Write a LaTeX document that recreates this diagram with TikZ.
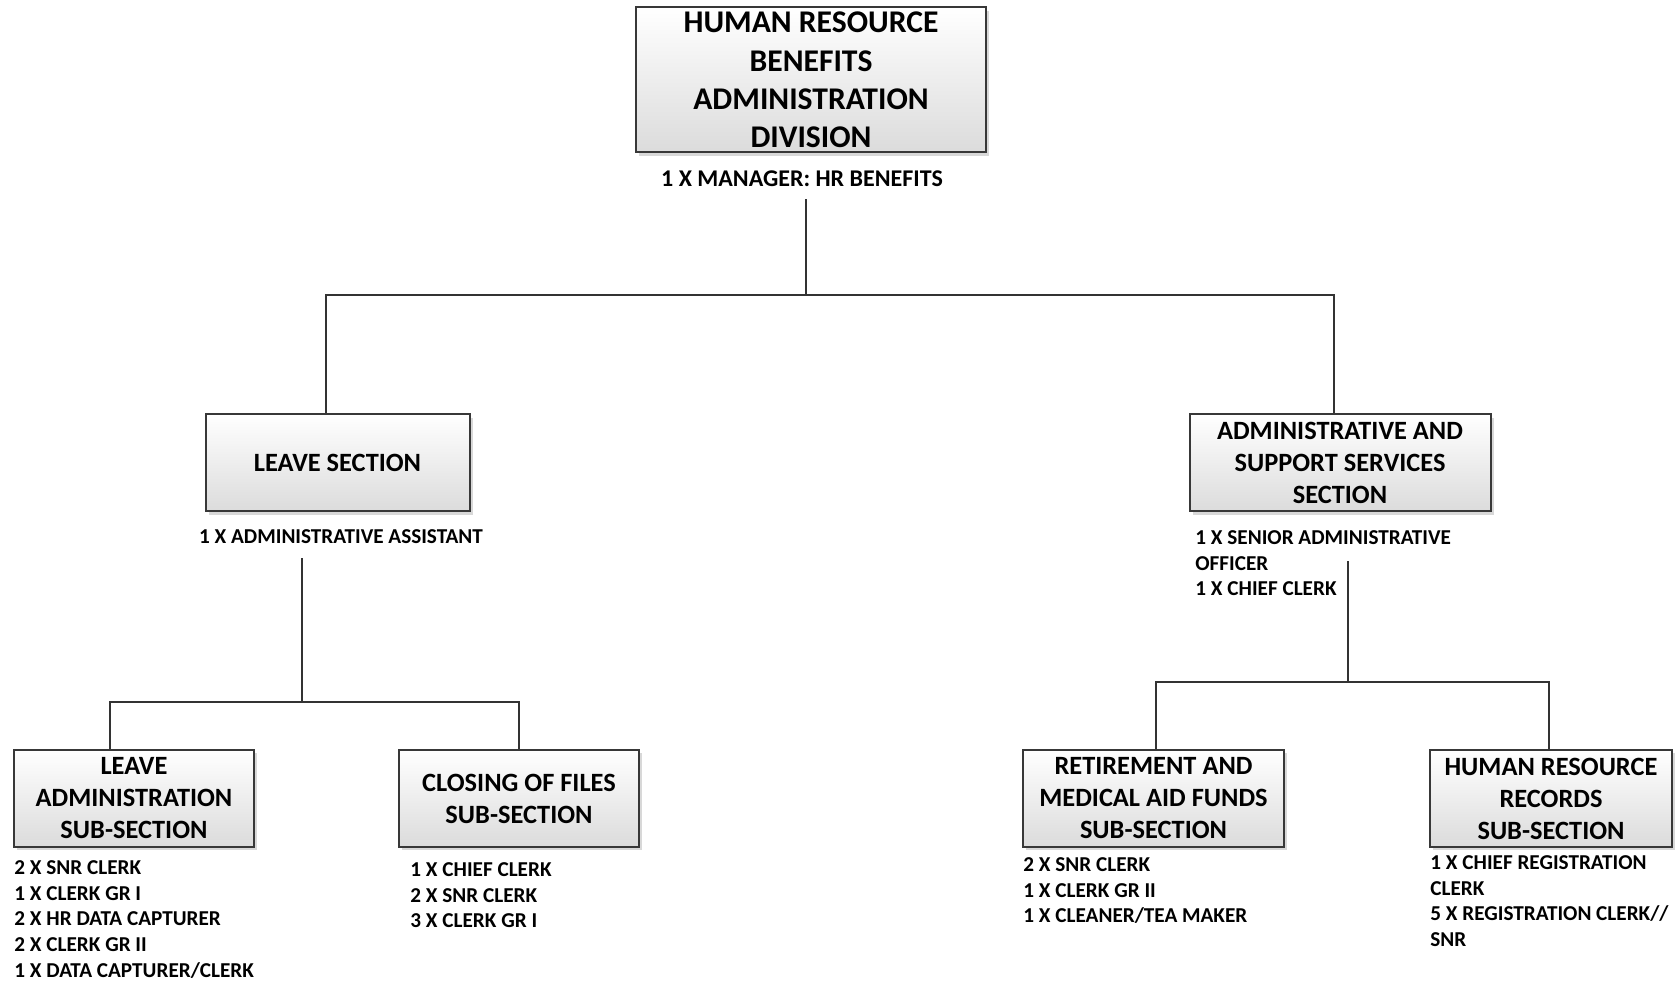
\documentclass[tikz,border=0pt]{standalone}
\usepackage{fontspec}
\setmainfont{Carlito}
\usetikzlibrary{shadows}

\tikzset{
  unitbox/.style={draw=black!78, line width=1pt, top color=white, bottom color=black!14,
    drop shadow={shadow xshift=1.6pt, shadow yshift=-1.6pt, fill=black!30, opacity=0.5},
    align=center, font=\bfseries\fontsize{13.2}{16}\selectfont},
  divbox/.style={unitbox, font=\bfseries\fontsize{15.8}{19.2}\selectfont},
  staff/.style={align=left, anchor=north west, font=\bfseries\fontsize{10.6}{12.9}\selectfont},
  head/.style={font=\bfseries\fontsize{12}{14}\selectfont},
  link/.style={draw=black!80, line width=1pt}
}

\begin{document}
\begin{tikzpicture}[x=0.5pt,y=-0.5pt]
\tikzstyle{every node}+=[inner sep=0pt]
\useasboundingbox (0,0) rectangle (1680,983);

\node [divbox, minimum width=175pt, minimum height=72.5pt] (div) at (811,80) {HUMAN RESOURCE\\BENEFITS\\ADMINISTRATION\\DIVISION};
\node [head] (mgr) at (802,179) {1 X MANAGER: HR BENEFITS};

\node [unitbox, minimum width=132pt, minimum height=48.5pt] (leave) at (337.5,463) {LEAVE SECTION};
\node [head, font=\bfseries\fontsize{10.6}{12.9}\selectfont] (asst) at (341,537) {1 X ADMINISTRATIVE ASSISTANT};

\node [unitbox, minimum width=150.5pt, minimum height=48.5pt] (admin) at (1340,463) {ADMINISTRATIVE AND\\SUPPORT SERVICES\\SECTION};
\node [staff] (sao) at (1195,530) {1 X SENIOR ADMINISTRATIVE\\OFFICER\\1 X CHIEF CLERK};

\node [unitbox, minimum width=120pt, minimum height=48.5pt] (leaveadm) at (134,798.5) {LEAVE\\ADMINISTRATION\\SUB-SECTION};
\node [staff] (lastaff) at (14,860) {2 X SNR CLERK\\1 X CLERK GR I\\2 X HR DATA CAPTURER\\2 X CLERK GR II\\1 X DATA CAPTURER/CLERK};

\node [unitbox, minimum width=120pt, minimum height=48.5pt] (closing) at (519,798.5) {CLOSING OF FILES\\SUB-SECTION};
\node [staff] (clstaff) at (410,862) {1 X CHIEF CLERK\\2 X SNR CLERK\\3 X CLERK GR I};

\node [unitbox, minimum width=130.5pt, minimum height=48.5pt] (retire) at (1153.5,798.5) {RETIREMENT AND\\MEDICAL AID FUNDS\\SUB-SECTION};
\node [staff] (rtstaff) at (1023,857) {2 X SNR CLERK\\1 X CLERK GR II\\1 X CLEANER/TEA MAKER};

\node [unitbox, minimum width=121pt, minimum height=48.5pt] (records) at (1551,798.5) {HUMAN RESOURCE\\RECORDS\\SUB-SECTION};
\node [staff] (rcstaff) at (1430,855) {1 X CHIEF REGISTRATION\\CLERK\\5 X REGISTRATION CLERK//\\SNR};

\draw [link] ([xshift=2pt,yshift=-6pt]mgr.south) -- ++(0,96) -| ([xshift=-5.75pt]leave.north);
\draw [link] ([xshift=2pt,yshift=-6pt]mgr.south) ++(0,96) -| ([xshift=-3pt]admin.north);
\draw [link] ([xshift=-19.5pt,yshift=-7pt]asst.south) -- ++(0,144) -| ([xshift=-12pt]leaveadm.north);
\draw [link] ([xshift=-19.5pt,yshift=-7pt]asst.south) ++(0,144) -| (closing.north);
\draw [link] ([xshift=4pt,yshift=-24.25pt]admin.south) -- ++(0,121) -| ([xshift=1.25pt]retire.north);
\draw [link] ([xshift=4pt,yshift=-24.25pt]admin.south) ++(0,121) -| ([xshift=-1pt]records.north);
\end{tikzpicture}
\end{document}
